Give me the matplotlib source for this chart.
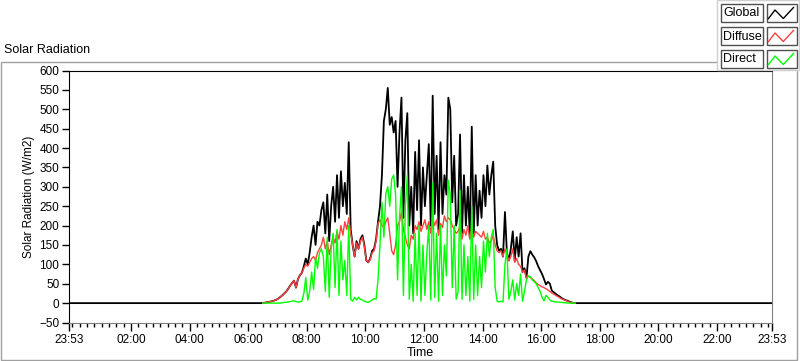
import matplotlib
matplotlib.use("Agg")
import matplotlib.pyplot as plt
from matplotlib.lines import Line2D
from matplotlib.patches import Rectangle
import numpy as np

plt.rcParams['font.family'] = ['Liberation Sans', 'DejaVu Sans']

# time axis in hours (chart runs 23:53 -> 23:53)
day_start = -7 / 60
day_end = 24 - 7 / 60
first_sample = 6.5   # 06:30
step_min = 4

# W/m2, one value every 4 minutes from 06:30
glob = [0, 1, 2, 3, 4, 5, 7, 9, 12, 16,
        20, 25, 30, 37, 45, 52, 58, 40, 62, 72,
        78, 95, 115, 100, 130, 170, 200, 150, 210, 200,
        240, 260, 180, 280, 160, 250, 300, 210, 330, 220,
        340, 250, 310, 230, 415, 190, 150, 120, 160, 140,
        165, 175, 150, 110, 105, 115, 135, 140, 165, 210,
        250, 330, 470, 500, 555, 460, 480, 440, 470, 300,
        440, 530, 220, 420, 490, 200, 300, 180, 390, 240,
        420, 200, 350, 250, 330, 410, 200, 535, 230, 380,
        190, 415, 230, 330, 280, 530, 500, 260, 380, 200,
        230, 435, 180, 330, 200, 300, 170, 455, 180, 330,
        200, 290, 220, 330, 250, 355, 280, 330, 365, 200,
        150, 135, 140, 120, 235, 130, 110, 140, 185, 110,
        170, 120, 180, 80, 90, 65, 120, 134, 125, 118,
        108, 95, 85, 75, 62, 48, 55, 50, 32, 28,
        24, 20, 17, 13, 10, 8, 6, 4, 2, 0, 0]

diffuse = [0, 1, 2, 3, 4, 5, 7, 9, 12, 16,
           20, 25, 30, 37, 45, 52, 58, 40, 62, 72,
           78, 90, 100, 95, 105, 115, 120, 110, 130, 140,
           150, 170, 140, 160, 125, 150, 170, 155, 185, 165,
           200, 175, 210, 190, 220, 180, 150, 120, 155, 140,
           160, 170, 145, 110, 105, 112, 130, 135, 160, 205,
           215, 200, 195, 210, 220, 180, 135, 125, 150, 200,
           210, 235, 190, 170, 150, 140, 175, 165, 200, 190,
           210, 185, 200, 215, 190, 210, 180, 220, 200, 215,
           175, 205, 195, 225, 210, 220, 215, 200, 190, 180,
           185, 200, 165, 190, 175, 200, 165, 190, 170, 185,
           180, 175, 170, 185, 165, 170, 155, 160, 175, 150,
           135, 130, 135, 120, 140, 125, 110, 120, 140, 105,
           115, 100, 95, 80, 85, 65, 70, 66, 62, 58,
           52, 48, 45, 42, 40, 37, 34, 30, 26, 23,
           20, 17, 14, 11, 9, 7, 5, 3, 1, 0, 0]

direct = [0, 0, 0, 0, 0, 0, 0, 0, 0, 0,
          1, 2, 2, 3, 4, 5, 6, 4, 3, 3,
          5, 25, 66, 8, 30, 80, 35, 118, 90, 130,
          140, 120, 30, 170, 15, 140, 180, 40, 190, 20,
          160, 60, 110, 20, 200, 10, 5, 15, 8, 15,
          10, 8, 5, 3, 2, 5, 8, 12, 10, 60,
          150, 260, 170, 283, 300, 250, 320, 330, 280, 60,
          220, 300, 20, 250, 330, 10, 100, 5, 180, 20,
          200, 5, 150, 20, 130, 200, 8, 310, 15, 180,
          5, 200, 20, 150, 70, 317, 280, 40, 200, 10,
          30, 291, 10, 150, 20, 120, 5, 250, 10, 150,
          20, 120, 40, 160, 80, 180, 120, 170, 190, 40,
          5, 3, 5, 3, 100, 140, 10, 30, 60, 8,
          50, 20, 75, 5, 30, 60, 70, 68, 60, 55,
          50, 40, 30, 15, 6, 20, 15, 8, 5, 4,
          3, 3, 2, 2, 1, 1, 0, 0, 0, 0, 0]

tick_labels = ["23:53", "02:00", "04:00", "06:00", "08:00", "10:00", "12:00",
               "14:00", "16:00", "18:00", "20:00", "22:00", "23:53"]
tick_pos = [day_start] + list(range(2, 24, 2)) + [day_end]

series = ["Global", "Diffuse", "Direct"]
colors = ["black", "#ff4040", "#00ff00"]

W, H = 800, 361


def fx(x):
    return x / W


def fy(y):
    return 1 - y / H


t = first_sample + np.arange(len(glob)) * step_min / 60

fig = plt.figure(figsize=(W / 100, H / 100), dpi=100)
fig.patch.set_facecolor("white")

# outer graph frame
fig.add_artist(Rectangle((fx(0.5), fy(359.5)), fx(796), 298 / H, transform=fig.transFigure,
                         fill=False, edgecolor="#a0a0a0", lw=1))

ax = fig.add_axes([fx(69), fy(322.5), fx(772 - 69), (322.5 - 70.5) / H])
ax.plot(np.r_[day_start, t, day_end], np.r_[0, glob, 0], color=colors[0], lw=1.3)
ax.plot(t, diffuse, color=colors[1], lw=1)
ax.plot(t, direct, color=colors[2], lw=1)

ax.set_xlim(day_start, day_end)
ax.set_ylim(-50, 600)
ax.set_yticks(np.arange(-50, 601, 50))
ax.set_xticks(tick_pos)
ax.set_xticklabels(tick_labels)
ax.set_xticks(np.arange(0, 24, 0.25), minor=True)
ax.tick_params(axis="x", which="major", length=6, width=1, direction="out", labelsize=8.5, pad=2)
ax.tick_params(axis="x", which="minor", length=3, width=1, direction="out")
ax.tick_params(axis="y", length=5, width=1, direction="out", labelsize=8.5, pad=2)
for side in ["left", "top"]:
    ax.spines[side].set_color("black")
for side in ["right", "bottom"]:
    ax.spines[side].set_color("#808080")
ax.set_ylabel("Solar Radiation (W/m2)", fontsize=8.5, labelpad=3)
ax.set_xlabel("Time", fontsize=9, labelpad=1)

fig.text(fx(4), fy(50), "Solar Radiation", fontsize=9, va="center", ha="left")

# legend panel in the top right corner
fig.add_artist(Rectangle((fx(717), fy(70)), fx(82), 70 / H, transform=fig.transFigure,
                         facecolor="white", edgecolor="#d0d0d0", lw=1))
for r, (name, c) in enumerate(zip(series, colors)):
    top = 4 + 23 * r
    fig.add_artist(Rectangle((fx(721), fy(top + 18)), fx(42), 18 / H, transform=fig.transFigure,
                             facecolor="white", edgecolor="#505050", lw=1))
    fig.add_artist(Rectangle((fx(767), fy(top + 18)), fx(30), 18 / H, transform=fig.transFigure,
                             facecolor="white", edgecolor="#505050", lw=1))
    fig.text(fx(723.5), fy(top + 9.5), name, fontsize=9, va="center", ha="left")
    xs = [768.5, 775, 783.3, 793.5]
    ys = [top + 14.5, top + 6, top + 14.5, top + 3.5]
    fig.add_artist(Line2D([fx(v) for v in xs], [fy(v) for v in ys], transform=fig.transFigure,
                          color=c, lw=1))

fig.savefig("out.png", dpi=100)
